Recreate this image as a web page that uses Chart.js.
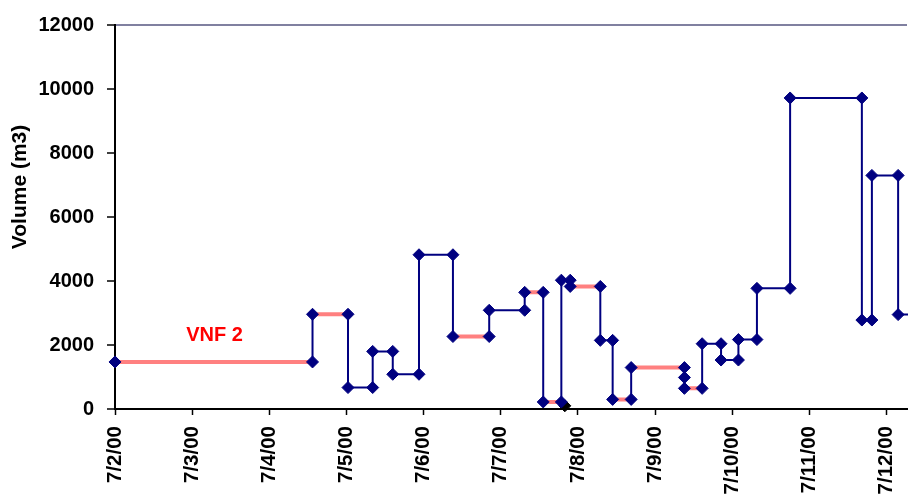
<!DOCTYPE html>
<html>
<head>
<meta charset="utf-8">
<script src="https://cdn.jsdelivr.net/npm/chart.js@4/dist/chart.umd.min.js"></script>
<style>
  html, body { margin: 0; padding: 0; background: #fff; overflow: hidden; }
  /* the plot runs a little past the right edge of the window, as in the source */
  #wrap { width: 914px; height: 497px; }
</style>
</head>
<body>
<div id="wrap"><canvas id="volChart"></canvas></div>
<script>
// days after 7/2/00 00:00 and volume (m3), in path order
var stepDays = [0, 2.56, 2.56, 3.02, 3.02, 3.34, 3.34, 3.60, 3.60, 3.94, 3.94, 4.38, 4.38, 4.85, 4.85, 5.31,
	5.31, 5.55, 5.55, 5.785, 5.785, 5.90, 5.90, 6.29, 6.29, 6.45, 6.45, 6.69, 6.69, 7.38, 7.38, 7.38,
	7.61, 7.61, 7.855, 7.855, 8.08, 8.08, 8.32, 8.32, 8.75, 8.75, 9.68, 9.68, 9.81, 9.81, 10.15, 10.15, 10.45];
var stepVolumes = [1470, 1470, 2960, 2960, 670, 670, 1800, 1800, 1085, 1085, 4820, 4820, 2265, 2265, 3085, 3085,
	3645, 3645, 220, 220, 4025, 4025, 3830, 3830, 2145, 2145, 300, 300, 1295, 1295, 985, 645,
	645, 2040, 2040, 1530, 1530, 2170, 2170, 3770, 3770, 9720, 9720, 2780, 2780, 7300, 7300, 2950, 2950];
// segments (index i -> i+1) drawn in pink
var pinkStarts = [0, 2, 12, 16, 18, 22, 26, 28, 31];
// black marker hidden behind the navy ones near 7/7 - 7/8
var blackDays = [5.83];
var blackVolumes = [100];
var xTickLabels = ['7/2/00', '7/3/00', '7/4/00', '7/5/00', '7/6/00', '7/7/00', '7/8/00', '7/9/00', '7/10/00', '7/11/00', '7/12/00'];
var yTicks = [0, 2000, 4000, 6000, 8000, 10000, 12000];

var NAVY = '#000080';
var PINK = '#ff8080';
var FONT = '"Liberation Sans", Arial, sans-serif';

var stepData = [];
stepDays.forEach(function(d, i) {
	stepData.push({x: d, y: stepVolumes[i]});
});

var pinkData = [];
pinkStarts.forEach(function(s) {
	pinkData.push({x: stepDays[s], y: stepVolumes[s]});
	pinkData.push({x: stepDays[s + 1], y: stepVolumes[s + 1]});
	pinkData.push({x: stepDays[s + 1], y: null});
});

var blackData = [];
blackDays.forEach(function(d, i) {
	blackData.push({x: d, y: blackVolumes[i]});
});

// series label and axis title
var textPlugin = {
	id: 'chartTexts',
	afterDatasetsDraw: function(chart) {
		var c = chart.ctx;
		var xs = chart.scales.x, ys = chart.scales.y;
		c.save();
		c.font = 'bold 20px ' + FONT;
		c.fillStyle = '#ff0000';
		c.textAlign = 'center';
		c.textBaseline = 'middle';
		c.fillText('VNF 2', xs.getPixelForValue(1.29), ys.getPixelForValue(2300));
		c.restore();

		c.save();
		c.font = 'bold 21px ' + FONT;
		c.fillStyle = '#000';
		c.textAlign = 'center';
		c.textBaseline = 'middle';
		c.translate(20, 187);
		c.rotate(-Math.PI / 2);
		c.fillText('Volume (m3)', 0, 0);
		c.restore();
	}
};

var tickFont = {family: FONT, size: 20, weight: 'bold'};

const ctx = document.getElementById('volChart').getContext('2d');
const config = {
	type: 'line',
	data: {
		datasets: [
			{label: 'points', data: stepData, showLine: false, pointStyle: 'rectRot', pointRadius: 6,
				pointBackgroundColor: NAVY, pointBorderColor: NAVY, pointBorderWidth: 1, clip: false},
			{label: 'pink', data: pinkData, borderColor: PINK, borderWidth: 4, pointRadius: 0, tension: 0, spanGaps: false, clip: false},
			{label: 'step', data: stepData, borderColor: NAVY, borderWidth: 2, pointRadius: 0, tension: 0, clip: false},
			{label: 'black', data: blackData, showLine: false, pointStyle: 'rectRot', pointRadius: 6,
				pointBackgroundColor: '#000', pointBorderColor: '#000', pointBorderWidth: 1, clip: false}
		]
	},
	options: {
		responsive: true,
		maintainAspectRatio: false,
		animation: false,
		layout: {padding: {top: 8, right: 0, bottom: 0, left: 0}},
		plugins: {
			legend: {display: false},
			tooltip: {enabled: false}
		},
		scales: {
			x: {
				type: 'linear',
				min: 0,
				max: 10.265,
				afterBuildTicks: function(scale) {
					scale.ticks = xTickLabels.map(function(l, i) { return {value: i}; });
				},
				afterFit: function(scale) {
					scale.height = 88;
					scale.paddingRight = 0;
					scale.paddingLeft = 0;
				},
				border: {color: '#000', width: 2},
				grid: {drawOnChartArea: false, tickLength: 6, tickColor: '#000', tickWidth: 1.5},
				ticks: {
					autoSkip: false,
					minRotation: 90,
					maxRotation: 90,
					padding: 11,
					color: '#000',
					font: {family: FONT, size: 20.5, weight: 'bold'},
					callback: function(v) { return xTickLabels[v]; }
				}
			},
			y: {
				min: 0,
				max: 12000,
				afterBuildTicks: function(scale) {
					scale.ticks = yTicks.map(function(v) { return {value: v}; });
				},
				afterFit: function(scale) { scale.width = 115; },
				border: {color: '#000', width: 2},
				grid: {
					tickLength: 8,
					tickColor: '#000',
					tickWidth: 1.5,
					color: function(c) { return c.tick && c.tick.value === 12000 ? '#8080a0' : 'rgba(0,0,0,0)'; },
					lineWidth: 2
				},
				ticks: {padding: 13, color: '#000', font: tickFont, callback: function(v) { return String(v); }}
			}
		}
	},
	plugins: [textPlugin]
};
var volChart = new Chart(ctx, config);
</script>
</body>
</html>
